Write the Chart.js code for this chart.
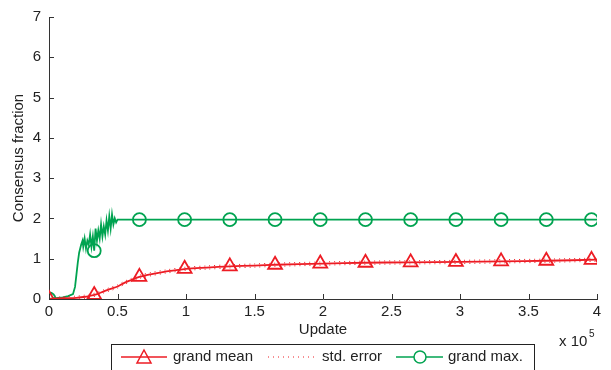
<!DOCTYPE html>
<html>
<head>
<meta charset="utf-8">
<script src="https://cdn.jsdelivr.net/npm/chart.js@4.4.1/dist/chart.umd.min.js"></script>
<style>
  html, body { margin: 0; padding: 0; background: #fff; }
  #wrap { position: relative; width: 611px; height: 370px; }
</style>
</head>
<body>
<div id="wrap"><canvas id="chart" width="611" height="370"></canvas></div>
<script>
// x values are in units of 1e5 updates
const xTicks = [0, 0.5, 1, 1.5, 2, 2.5, 3, 3.5, 4];
const yTicks = [0, 1, 2, 3, 4, 5, 6, 7];

const meanX = [0, 0.1, 0.2, 0.25, 0.3, 0.35, 0.4, 0.45, 0.5, 0.55, 0.6, 0.66, 0.75, 0.85, 1.0, 1.15, 1.32, 1.5, 1.65, 2.0, 2.3, 2.63, 3.0, 3.3, 3.63, 4.0];
const meanY = [0, 0.02, 0.03, 0.05, 0.08, 0.12, 0.19, 0.25, 0.31, 0.4, 0.47, 0.55, 0.62, 0.68, 0.75, 0.78, 0.81, 0.83, 0.85, 0.88, 0.9, 0.91, 0.92, 0.935, 0.95, 0.975];
const stdErr = [0, 0.04, 0.04, 0.04, 0.04, 0.04, 0.04, 0.04, 0.04, 0.04, 0.04, 0.04, 0.04, 0.04, 0.04, 0.04, 0.04, 0.04, 0.04, 0.04, 0.04, 0.04, 0.04, 0.04, 0.04, 0.04];

const maxX = [0, 0.05, 0.1, 0.14, 0.175, 0.19, 0.2, 0.21, 0.22, 0.235, 0.245,
  0.25, 0.26, 0.27, 0.28, 0.29, 0.3, 0.31, 0.32, 0.33, 0.34, 0.35, 0.36, 0.37, 0.38,
  0.39, 0.4, 0.41, 0.42, 0.43, 0.44, 0.45, 0.46, 0.47, 0.48, 0.49, 0.5, 4.0];
const maxY = [0, 0.02, 0.04, 0.07, 0.12, 0.3, 0.6, 0.9, 1.15, 1.35, 1.45,
  1.3, 1.5, 1.25, 1.45, 1.35, 1.6, 1.3, 1.55, 1.2, 1.75, 1.45, 1.7, 1.5, 1.85,
  1.55, 1.8, 1.6, 1.95, 1.7, 2.05, 1.75, 2.1, 1.85, 2.0, 1.9, 1.97, 1.97];

const markerX = [0, 0.33, 0.66, 0.99, 1.32, 1.65, 1.98, 2.31, 2.64, 2.97, 3.3, 3.63, 3.96];
const meanMarkY = [0, 0.1, 0.55, 0.75, 0.81, 0.85, 0.88, 0.9, 0.91, 0.92, 0.935, 0.95, 0.97];
const maxMarkY = [0, 1.2, 1.97, 1.97, 1.97, 1.97, 1.97, 1.97, 1.97, 1.97, 1.97, 1.97, 1.97];

const RED = 'rgb(237,28,36)';
const GREEN = 'rgb(0,163,80)';
const FONT = 'Liberation Sans, Arial, sans-serif';
const FS = 15;

const pts = (xs, ys) => xs.map((x, i) => ({ x: x, y: ys[i] }));

// draw ticks pointing into the plot, like the original
const innerTicks = {
  id: 'innerTicks',
  afterDraw(chart) {
    const ctx = chart.ctx, a = chart.chartArea;
    const xs = chart.scales.x, ys = chart.scales.y;
    ctx.save();
    ctx.strokeStyle = '#333';
    ctx.lineWidth = 1;
    ctx.beginPath();
    xTicks.forEach(v => {
      const p = Math.round(xs.getPixelForValue(v)) + 0.5;
      ctx.moveTo(p, a.bottom); ctx.lineTo(p, a.bottom - 5);
    });
    yTicks.forEach(v => {
      const p = Math.round(ys.getPixelForValue(v)) + 0.5;
      ctx.moveTo(a.left, p); ctx.lineTo(a.left + 5, p);
    });
    ctx.stroke();

    // exponent label
    ctx.fillStyle = '#222';
    ctx.font = FS + 'px ' + FONT;
    ctx.textBaseline = 'middle';
    ctx.textAlign = 'left';
    ctx.fillText('x 10', 559, 342);
    ctx.font = '10px ' + FONT;
    ctx.fillText('5', 589, 334);
    ctx.restore();
  }
};

// legend box at the bottom
const bottomLegend = {
  id: 'bottomLegend',
  afterDraw(chart) {
    const ctx = chart.ctx;
    ctx.save();
    ctx.fillStyle = '#fff';
    ctx.fillRect(111, 344, 423, 30);
    ctx.strokeStyle = '#222';
    ctx.lineWidth = 1;
    ctx.strokeRect(111.5, 344.5, 423, 30);
    const ly = 357;
    ctx.lineWidth = 1.5;
    // grand mean
    ctx.strokeStyle = RED;
    ctx.beginPath(); ctx.moveTo(121, ly); ctx.lineTo(167, ly); ctx.stroke();
    ctx.beginPath();
    ctx.moveTo(144, ly - 7); ctx.lineTo(151, ly + 6); ctx.lineTo(137, ly + 6); ctx.closePath();
    ctx.stroke();
    // std. error
    ctx.setLineDash([1, 4]);
    ctx.lineWidth = 1;
    ctx.beginPath(); ctx.moveTo(268, ly); ctx.lineTo(315, ly); ctx.stroke();
    ctx.setLineDash([]);
    // grand max
    ctx.lineWidth = 1.5;
    ctx.strokeStyle = GREEN;
    ctx.beginPath(); ctx.moveTo(396, ly); ctx.lineTo(443, ly); ctx.stroke();
    ctx.fillStyle = '#fff';
    ctx.beginPath(); ctx.arc(420, ly, 6, 0, Math.PI * 2); ctx.fill(); ctx.stroke();

    ctx.fillStyle = '#222';
    ctx.font = FS + 'px ' + FONT;
    ctx.textBaseline = 'middle';
    ctx.textAlign = 'left';
    ctx.fillText('grand mean', 173, ly);
    ctx.fillText('std. error', 322, ly);
    ctx.fillText('grand max.', 448, ly);
    ctx.restore();
  }
};

const ctx = document.getElementById('chart');
new Chart(ctx, {
  type: 'scatter',
  data: {
    datasets: [
      {
        label: 'std. error upper',
        data: pts(meanX, meanY.map((v, i) => v + stdErr[i])),
        showLine: true, borderColor: RED, borderWidth: 1, borderDash: [1, 4],
        pointRadius: 0, tension: 0.3
      },
      {
        label: 'std. error lower',
        data: pts(meanX, meanY.map((v, i) => Math.max(0, v - stdErr[i]))),
        showLine: true, borderColor: RED, borderWidth: 1, borderDash: [1, 4],
        pointRadius: 0, tension: 0.3
      },
      {
        label: 'grand mean',
        data: pts(meanX, meanY),
        showLine: true, borderColor: RED, borderWidth: 1.8,
        pointRadius: 0, tension: 0.3
      },
      {
        label: 'grand max.',
        data: pts(maxX, maxY),
        showLine: true, borderColor: GREEN, borderWidth: 1.8,
        pointRadius: 0, tension: 0
      },
      {
        label: 'grand mean markers',
        data: pts(markerX, meanMarkY),
        showLine: false, pointStyle: 'triangle', pointRadius: 8,
        pointBorderColor: RED, pointBackgroundColor: 'rgba(0,0,0,0)', pointBorderWidth: 1.8
      },
      {
        label: 'grand max markers',
        data: pts(markerX, maxMarkY),
        showLine: false, pointStyle: 'circle', pointRadius: 6.5,
        pointBorderColor: GREEN, pointBackgroundColor: 'rgba(0,0,0,0)', pointBorderWidth: 1.8
      }
    ]
  },
  options: {
    responsive: false,
    animation: false,
    layout: { padding: { top: 12, right: 14, left: 0, bottom: 0 } },
    plugins: { legend: { display: false }, tooltip: { enabled: false } },
    scales: {
      x: {
        type: 'linear', min: 0, max: 4,
        afterFit: s => { s.height = 71; },
        afterBuildTicks: s => { s.ticks = xTicks.map(v => ({ value: v })); },
        grid: { drawOnChartArea: false, drawTicks: false },
        border: { display: true, color: '#333', width: 1 },
        ticks: { color: '#222', font: { family: FONT, size: FS }, padding: 4, maxRotation: 0,
                 callback: v => String(v) },
        title: { display: true, text: 'Update', color: '#222', font: { family: FONT, size: FS }, padding: { top: 0, bottom: 31 } }
      },
      y: {
        type: 'linear', min: 0, max: 7,
        afterFit: s => { s.width = 49; },
        afterBuildTicks: s => { s.ticks = yTicks.map(v => ({ value: v })); },
        grid: { drawOnChartArea: false, drawTicks: false },
        border: { display: true, color: '#333', width: 1 },
        ticks: { color: '#222', font: { family: FONT, size: FS }, padding: 8, callback: v => String(v) },
        title: { display: true, text: 'Consensus fraction', color: '#222', font: { family: FONT, size: FS }, padding: { top: 10, bottom: 0 } }
      }
    }
  },
  plugins: [innerTicks, bottomLegend]
});
</script>
</body>
</html>
